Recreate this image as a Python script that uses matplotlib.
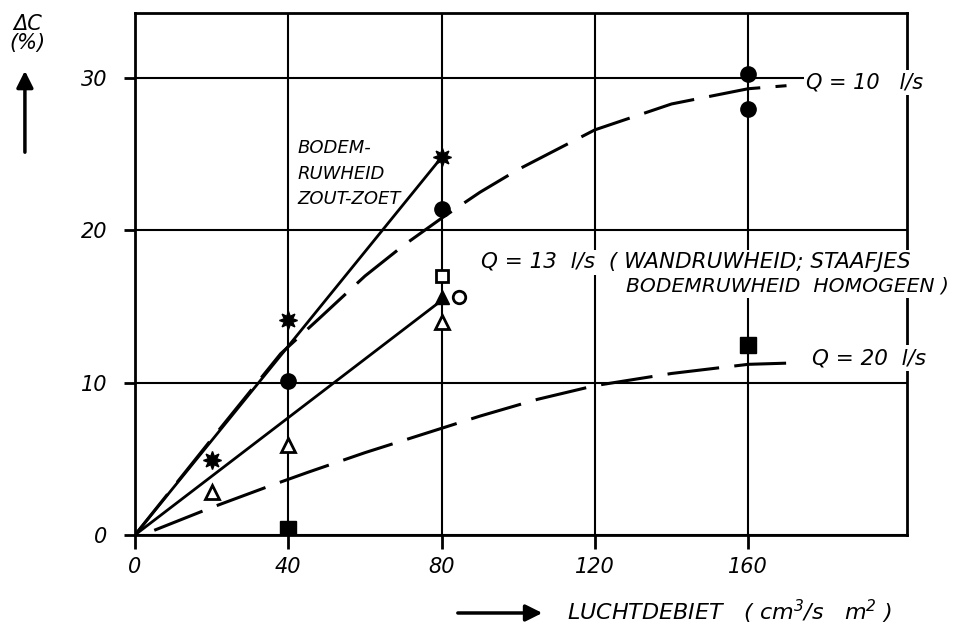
import numpy as np
from matplotlib import pyplot as plt

star_x = [20, 40, 80]
star_y = [4.9, 14.1, 24.8]
fcirc_x = [40, 80, 160, 160]
fcirc_y = [10.1, 21.4, 30.3, 28.0]
osq_x = [80]
osq_y = [17.0]
ftri_x = [80]
ftri_y = [15.6]
ocirc_x = [84.5]
ocirc_y = [15.6]
otri_x = [20, 40, 80]
otri_y = [2.8, 5.9, 14.0]
fsq_x = [40, 160]
fsq_y = [0.4, 12.5]

# drawn curves
zout_x = [0, 80]
zout_y = [0, 24.8]
q13_x = [0, 80]
q13_y = [0, 15.4]
q10_x = [0, 20, 38, 48, 60, 70, 80, 90, 100, 120, 140, 160, 170]
q10_y = [0, 6.3, 11.9, 14.2, 17.0, 19.0, 20.8, 22.5, 24.0, 26.6, 28.3, 29.3, 29.5]
q20_x = [5, 20, 35, 45, 60, 75, 90, 105, 120, 140, 160, 173]
q20_y = [0.3, 1.8, 3.2, 4.1, 5.4, 6.6, 7.8, 8.9, 9.8, 10.6, 11.2, 11.3]

xticks = [0, 40, 80, 120, 160]
yticks = [0, 10, 20, 30]

plt.rcParams['font.family'] = ['DejaVu Sans']
plt.rcParams['font.style'] = 'italic'
plt.rcParams['mathtext.default'] = 'it'

fig = plt.figure(figsize=(9.58, 6.3), dpi=100)
ax = fig.add_axes([0.141, 0.151, 0.806, 0.829])
ax.set_xlim(0, 201.5)
ax.set_ylim(0, 34.3)

for s in ax.spines.values():
    s.set_linewidth(2.0)
ax.set_xticks(xticks)
ax.set_yticks(yticks)
ax.set_xticklabels([str(v) for v in xticks], fontsize=15, style='italic')
ax.set_yticklabels([str(v) for v in yticks], fontsize=15, style='italic')
ax.tick_params(axis='x', length=10, width=2, pad=6)
ax.tick_params(axis='y', length=8, width=2, pad=12)
ax.grid(True, color='black', linewidth=1.5)

dash = (0, (17, 5))
ax.plot(zout_x, zout_y, color='black', lw=2.0)
ax.plot(q13_x, q13_y, color='black', lw=2.0)
ax.plot(q10_x, q10_y, color='black', lw=2.2, linestyle=dash)
ax.plot(q20_x, q20_y, color='black', lw=2.2, linestyle=dash)

ax.plot(star_x, star_y, ls='none', marker=(8, 1, 0), ms=13, color='black')
ax.plot(fcirc_x, fcirc_y, ls='none', marker='o', ms=11, color='black')
ax.plot(osq_x, osq_y, ls='none', marker='s', ms=9, mfc='white', mec='black', mew=2)
ax.plot(ftri_x, ftri_y, ls='none', marker='^', ms=10, color='black')
ax.plot(ocirc_x, ocirc_y, ls='none', marker='o', ms=9, mfc='white', mec='black', mew=2)
ax.plot(otri_x, otri_y, ls='none', marker='^', ms=10, mfc='white', mec='black', mew=2)
ax.plot(fsq_x, fsq_y, ls='none', marker='s', ms=11, color='black')

wbox = dict(facecolor='white', edgecolor='none', pad=2)
ax.text(42.3, 26.0, 'BODEM-\nRUWHEID\nZOUT-ZOET', fontsize=13, va='top', ha='left',
        linespacing=1.55)
ax.text(175.2, 29.7, 'Q = 10   l/s', fontsize=15, va='center', ha='left',
        bbox=wbox, clip_on=False, zorder=5)
ax.text(90.3, 17.9, 'Q = 13  l/s  ( WANDRUWHEID; STAAFJES', fontsize=15.5, va='center',
        ha='left', bbox=wbox, clip_on=False, zorder=5)
ax.text(128.2, 16.35, 'BODEMRUWHEID  HOMOGEEN )', fontsize=14.6, va='center',
        ha='left', bbox=wbox, clip_on=False, zorder=5)
ax.text(176.7, 11.6, 'Q = 20  l/s', fontsize=15.5, va='center', ha='left',
        bbox=wbox, clip_on=False, zorder=5)

# axis titles with arrows
fig.text(0.029, 0.978, 'ΔC\n(%)', fontsize=15, ha='center', va='top', linespacing=0.95)
ax.annotate('', xy=(0.026, 0.892), xytext=(0.026, 0.754), xycoords='figure fraction',
            textcoords='figure fraction',
            arrowprops=dict(arrowstyle='-|>', lw=2.5, mutation_scale=25, color='black'))
ax.annotate('', xy=(0.569, 0.027), xytext=(0.475, 0.027), xycoords='figure fraction',
            textcoords='figure fraction',
            arrowprops=dict(arrowstyle='-|>', lw=2.5, mutation_scale=25, color='black'))
fig.text(0.592, 0.029, r'LUCHTDEBIET   ( cm$^{3}$/s   m$^{2}$ )', fontsize=16,
         ha='left', va='center')

plt.savefig('out.png', dpi=100)
